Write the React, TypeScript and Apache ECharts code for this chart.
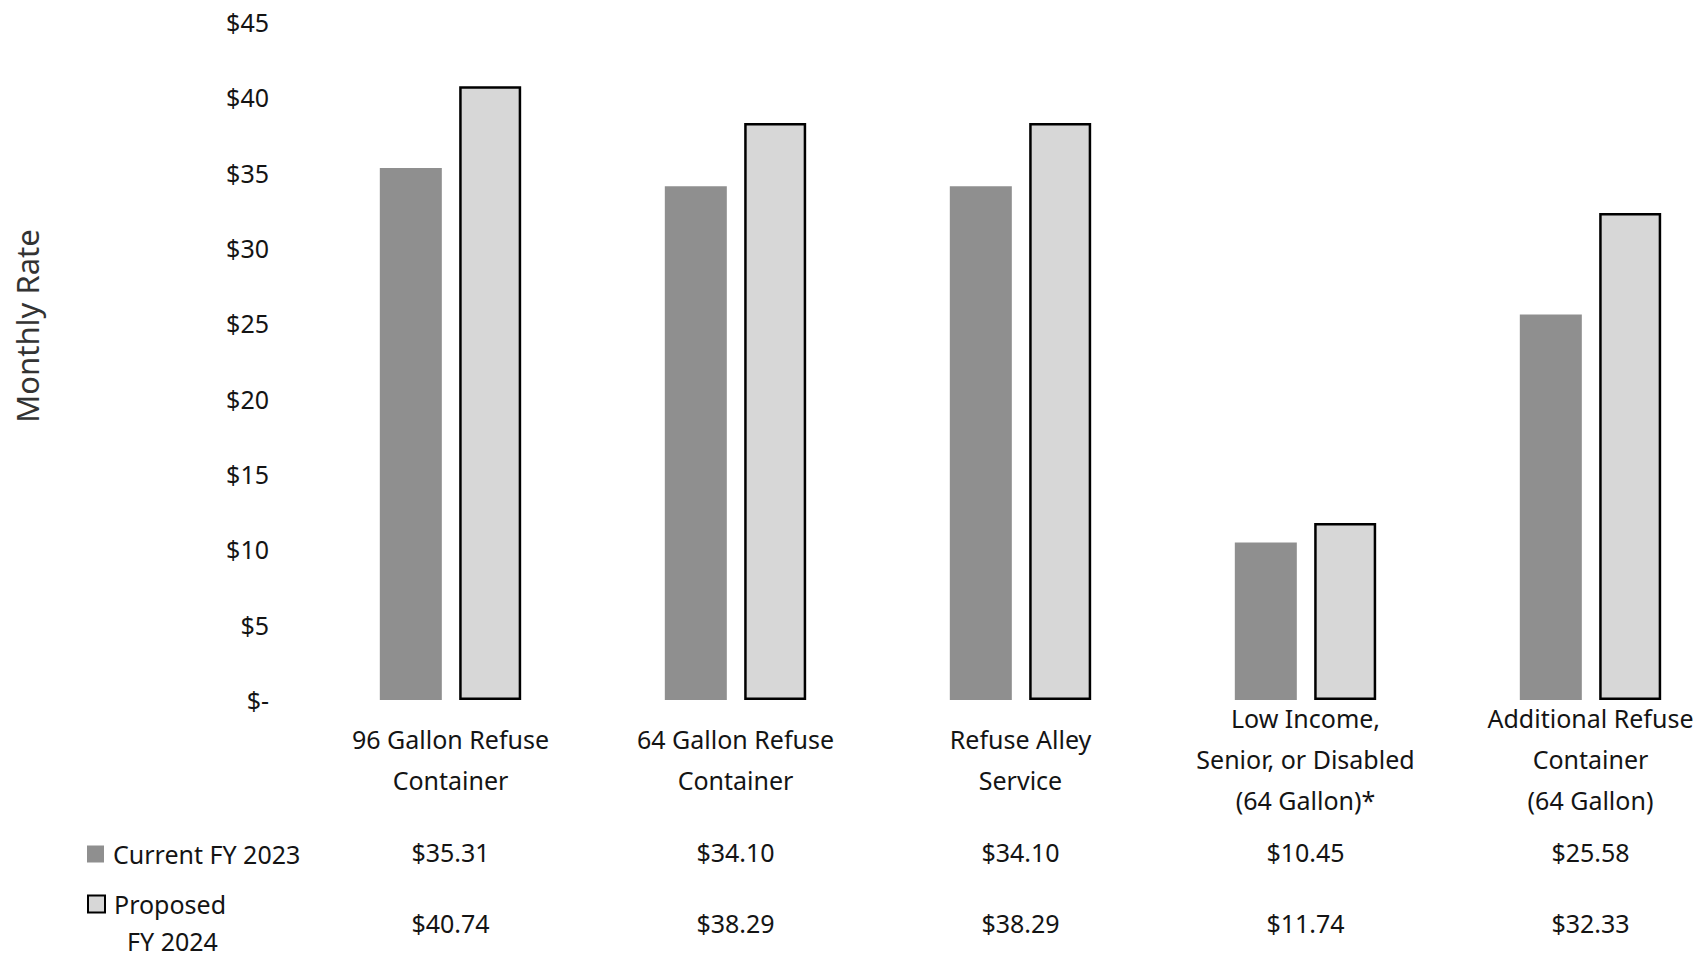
import React, { useEffect, useRef } from "react";
import * as echarts from "echarts";

const categories = [
  "96 Gallon Refuse\nContainer",
  "64 Gallon Refuse\nContainer",
  "Refuse Alley\nService",
  "Low Income,\nSenior, or Disabled\n(64 Gallon)*",
  "Additional Refuse\nContainer\n(64 Gallon)",
];
const seriesNames = ["Current FY 2023", "Proposed FY 2024"];
const current = [35.31, 34.1, 34.1, 10.45, 25.58];
const proposed = [40.74, 38.29, 38.29, 11.74, 32.33];
const yMin = 0;
const yMax = 45;
const yStep = 5;

const FONT = "'Noto Sans', 'DejaVu Sans', sans-serif";
const TEXT = "#141414";

const money = (v: number) => "$" + v.toFixed(2);

export default function App() {
  const ref = useRef<HTMLDivElement>(null);
  useEffect(() => {
    if (!ref.current) return;
    const chart = echarts.init(ref.current, undefined, { renderer: "svg" });
    const hiddenAxis = {
      type: "category" as const,
      data: categories,
      gridIndex: 0,
      position: "bottom" as const,
      axisLine: { show: false },
      axisTick: { show: false },
      splitLine: { show: false },
    };
    const legendBase = {
      orient: "vertical" as const,
      left: 87,
      padding: 0,
      itemWidth: 17,
      itemHeight: 17,
      selectedMode: false,
      icon: "rect",
    };
    chart.setOption({
      animation: false,
      backgroundColor: "#ffffff",
      textStyle: { fontFamily: FONT },
      grid: {
        left: 308,
        right: -28,
        top: 22,
        bottom: 259,
        containLabel: false,
        outerBoundsMode: "none",
      },
      legend: [
        {
          ...legendBase,
          top: 839,
          data: [seriesNames[0]],
          textStyle: {
            fontFamily: FONT,
            fontSize: 25,
            color: TEXT,
            lineHeight: 30,
            padding: [0, 0, 0, 4],
          },
        },
        {
          ...legendBase,
          top: 862,
          data: [seriesNames[1]],
          formatter: (name: string) => {
            const parts = name.split(" FY");
            return `{s| }\n{t|${parts[0]}}\n{t|  FY${parts[1]}}`;
          },
          textStyle: {
            fontFamily: FONT,
            fontSize: 25,
            color: TEXT,
            padding: [0, 0, 0, 4],
            rich: {
              s: { fontSize: 10, lineHeight: 37 },
              t: { fontFamily: FONT, fontSize: 25, lineHeight: 37, color: TEXT },
            },
          },
        },
      ],
      xAxis: [
        {
          ...hiddenAxis,
          axisLabel: {
            interval: 0,
            margin: 59,
            verticalAlign: "middle",
            align: "center",
            fontFamily: FONT,
            fontSize: 25,
            lineHeight: 41,
            color: TEXT,
          },
        },
        {
          ...hiddenAxis,
          axisLabel: {
            interval: 0,
            margin: 152,
            verticalAlign: "middle",
            fontFamily: FONT,
            fontSize: 25,
            color: TEXT,
            formatter: (_v: string, i: number) => money(current[i]),
          },
        },
        {
          ...hiddenAxis,
          axisLabel: {
            interval: 0,
            margin: 223,
            verticalAlign: "middle",
            fontFamily: FONT,
            fontSize: 25,
            color: TEXT,
            formatter: (_v: string, i: number) => money(proposed[i]),
          },
        },
      ],
      yAxis: {
        type: "value",
        min: yMin,
        max: yMax,
        interval: yStep,
        name: "Monthly Rate",
        nameLocation: "middle",
        nameGap: 266,
        nameTextStyle: {
          fontFamily: FONT,
          fontSize: 31,
          color: "#333333",
          padding: [0, 0, 0, 70],
        },
        axisLine: { show: false },
        axisTick: { show: false },
        splitLine: { show: false },
        axisLabel: {
          margin: 39,
          fontFamily: FONT,
          fontSize: 25,
          color: TEXT,
          formatter: (v: number) => (v === 0 ? "$-" : "$" + v),
        },
      },
      series: [
        {
          name: seriesNames[0],
          type: "bar",
          xAxisIndex: 0,
          data: current,
          barWidth: 62,
          barGap: "28%",
          itemStyle: { color: "#8f8f8f" },
        },
        {
          name: seriesNames[1],
          type: "bar",
          xAxisIndex: 0,
          data: proposed,
          barWidth: 62,
          barGap: "28%",
          itemStyle: {
            color: "#d7d7d7",
            borderColor: "#000000",
            borderWidth: 2.5,
          },
        },
      ],
    });
    return () => chart.dispose();
  }, []);
  return (
    <div
      ref={ref}
      style={{
        position: "fixed",
        left: 0,
        top: 0,
        width: "1705px",
        height: "959px",
        background: "#fff",
      }}
    />
  );
}
